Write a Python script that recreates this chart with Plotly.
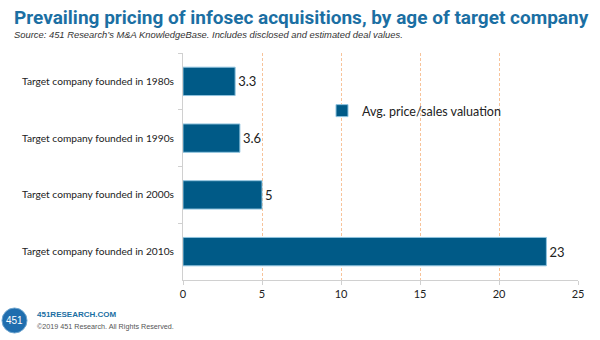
import plotly.graph_objects as go

categories = [
    "Target company founded in 1980s",
    "Target company founded in 1990s",
    "Target company founded in 2000s",
    "Target company founded in 2010s",
]
values = [3.3, 3.6, 5, 23]
value_labels = ["3.3", "3.6", "5", "23"]
series_name = "Avg. price/sales valuation"
x_ticks = [0, 5, 10, 15, 20, 25]

W, H = 600, 340
M_L, M_R, M_T, M_B = 183, 22, 53, 60

bar_color = "#005A87"
title_color = "#1B6FA3"
label_font = "Lato, Open Sans, sans-serif"


def px_x(p):
    """Pixel x (from left edge) to paper coordinate."""
    return (p - M_L) / (W - M_L - M_R)


def px_y(p):
    """Pixel y (from top edge) to paper coordinate."""
    return (H - M_B - p) / (H - M_T - M_B)


fig = go.Figure()
fig.add_trace(go.Bar(
    y=categories,
    x=values,
    orientation="h",
    name=series_name,
    marker=dict(color=bar_color, line=dict(color="#8FC3DE", width=1)),
    text=value_labels,
    textposition="outside",
    textfont=dict(family=label_font, size=13, color="#222222"),
    cliponaxis=False,
    width=0.5,
))

fig.update_layout(
    width=W,
    height=H,
    margin=dict(l=M_L, r=M_R, t=M_T, b=M_B, autoexpand=False),
    paper_bgcolor="white",
    plot_bgcolor="white",
    showlegend=True,
    legend=dict(
        x=px_x(322), y=px_y(111), xanchor="left", yanchor="middle",
        bgcolor="rgba(0,0,0,0)",
        font=dict(family=label_font, size=12.5, color="#222222"),
        itemwidth=30,
    ),
    xaxis=dict(
        range=[0, 25],
        tickvals=x_ticks,
        showgrid=True,
        gridcolor="#F7C39A",
        griddash="3px,2px",
        gridwidth=1,
        zeroline=False,
        showline=True,
        linecolor="#D0D0D0",
        ticks="outside",
        ticklen=4,
        tickcolor="#D0D0D0",
        tickfont=dict(family=label_font, size=11, color="#222222"),
        automargin=False,
        fixedrange=True,
    ),
    yaxis=dict(
        autorange="reversed",
        type="category",
        categoryorder="array",
        categoryarray=categories,
        showline=True,
        linecolor="#D0D0D0",
        ticks="outside",
        tickson="boundaries",
        ticklen=4,
        tickcolor="#D0D0D0",
        tickfont=dict(family=label_font, size=10.2, color="#222222"),
        ticklabelstandoff=6,
        automargin=False,
        showgrid=False,
    ),
)

texts = [
    (12, 4, "<b>Prevailing pricing of infosec acquisitions, by age of target company</b>",
     dict(family="Roboto, sans-serif", size=19, color=title_color)),
    (12, 27, "<i>Source: 451 Research’s M&A KnowledgeBase. Includes disclosed and estimated deal values.</i>",
     dict(family="Liberation Sans, Arial, sans-serif", size=9.4, color="#333333")),
    (35, 308, "<b>451RESEARCH.COM</b>",
     dict(family="Liberation Sans, Arial, sans-serif", size=8, color="#1B6FA3")),
    (35, 320, "©2019 451 Research. All Rights Reserved.",
     dict(family="Liberation Sans, Arial, sans-serif", size=7.2, color="#555555")),
]
for x, y, t, f in texts:
    fig.add_annotation(x=px_x(x), y=px_y(y), xref="paper", yref="paper",
                       xanchor="left", yanchor="top", text=t, showarrow=False, font=f)

# Logo disc with its label
fig.add_shape(
    type="circle", xref="paper", yref="paper",
    x0=px_x(2), x1=px_x(27), y0=px_y(333), y1=px_y(308),
    fillcolor="#1F6DAE", line=dict(color="#6FA6D0", width=1),
)
fig.add_annotation(x=px_x(14.5), y=px_y(320.5), xref="paper", yref="paper",
                   xanchor="center", yanchor="middle", text="451", showarrow=False,
                   font=dict(family="Liberation Sans, Arial, sans-serif", size=10, color="white"))

fig.write_html("out.html")
